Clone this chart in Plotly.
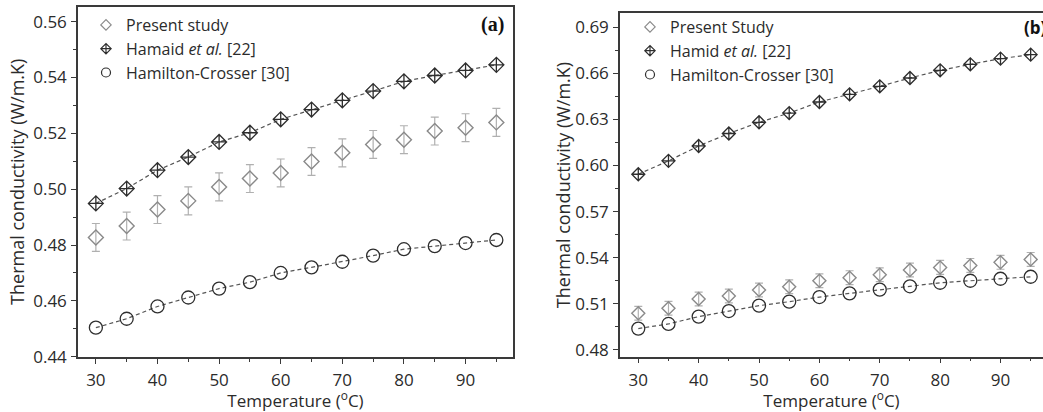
import plotly.graph_objects as go

# ---------------- data ----------------
temps = [30, 35, 40, 45, 50, 55, 60, 65, 70, 75, 80, 85, 90, 95]

# panel (a)
a_present = [0.4827, 0.4868, 0.4927, 0.4958, 0.5008, 0.5038, 0.5058, 0.5099,
             0.5130, 0.5160, 0.5177, 0.5208, 0.5220, 0.5239]
a_present_err = [0.005] * 14
a_hamaid = [0.4949, 0.5002, 0.5068, 0.5115, 0.5169, 0.5202, 0.5250, 0.5285,
            0.5318, 0.5351, 0.5386, 0.5407, 0.5425, 0.5445]
a_hc = [0.4504, 0.4536, 0.4580, 0.4612, 0.4644, 0.4667, 0.4700, 0.4720,
        0.4740, 0.4762, 0.4785, 0.4796, 0.4807, 0.4818]

# panel (b)
b_present = [0.5039, 0.5071, 0.5131, 0.5151, 0.5190, 0.5211, 0.5250, 0.5270,
             0.5289, 0.5320, 0.5337, 0.5350, 0.5370, 0.5389]
b_present_err = [0.0045] * 14
b_hamid = [0.5943, 0.6030, 0.6127, 0.6208, 0.6281, 0.6341, 0.6413, 0.6463,
           0.6515, 0.6569, 0.6619, 0.6658, 0.6695, 0.6721]
b_hc = [0.4939, 0.4969, 0.5017, 0.5053, 0.5088, 0.5114, 0.5144, 0.5168,
        0.5192, 0.5214, 0.5237, 0.5250, 0.5263, 0.5276]

names_a = ["Present study", "Hamaid <i>et al.</i> [22]", "Hamilton-Crosser [30]"]
names_b = ["Present Study", "Hamid <i>et al.</i> [22]", "Hamilton-Crosser [30]"]

# ---------------- style ----------------
W, H = 1043, 412
FONT = "Open Sans"
TXT = "#2b2b2b"
AX = "#3a3a3a"
GRAY = "#8a8a8a"
ERR = "#b0b0b0"
DARK = "#2e2e2e"
LINE = "#555555"
TS = 17   # tick label size
LS = 16   # legend size

fig = go.Figure()

def add_panel(xa, ya, leg, present, perr, ref, hc, names, dsize, csize):
    # dashed connecting lines
    for ys in (ref, hc):
        fig.add_trace(go.Scatter(
            x=temps, y=ys, mode="lines", showlegend=False, xaxis=xa, yaxis=ya, hoverinfo="skip",
            line=dict(color=LINE, width=1.2, dash="4px,3px"),
        ))
    fig.add_trace(go.Scatter(
        x=temps, y=present, mode="markers", name=names[0], xaxis=xa, yaxis=ya, showlegend=False,
        marker=dict(symbol="diamond-open", size=dsize, color=GRAY, line=dict(width=1.4, color=GRAY)),
        error_y=dict(type="data", array=perr, color=ERR, thickness=1.2, width=4),
    ))
    fig.add_trace(go.Scatter(
        x=temps, y=ref, mode="markers", name=names[1], xaxis=xa, yaxis=ya, showlegend=False,
        marker=dict(symbol="diamond-cross-open", size=dsize, color=DARK, line=dict(width=1.3, color=DARK)),
    ))
    fig.add_trace(go.Scatter(
        x=temps, y=hc, mode="markers", name=names[2], xaxis=xa, yaxis=ya, showlegend=False,
        marker=dict(symbol="circle-open", size=csize, color=DARK, line=dict(width=1.3, color=DARK)),
    ))
    # legend entries (smaller symbols, as in the original legend)
    for nm, sym, col, sz in ((names[0], "diamond-open", GRAY, 8),
                             (names[1], "diamond-cross-open", DARK, 8),
                             (names[2], "circle-open", DARK, 9)):
        fig.add_trace(go.Scatter(
            x=[None], y=[None], mode="markers", name=nm, xaxis=xa, yaxis=ya, legend=leg,
            marker=dict(symbol=sym, size=sz, color=col, line=dict(width=1.2, color=col)),
        ))

add_panel("x", "y", "legend", a_present, a_present_err, a_hamaid, a_hc, names_a, 11.5, 13)
add_panel("x2", "y2", "legend2", b_present, b_present_err, b_hamid, b_hc, names_b, 10, 13)

def xaxis(domain, rng, anchor):
    return dict(
        domain=domain, range=rng, anchor=anchor, tick0=0, dtick=10, automargin=False,
        ticks="outside", ticklen=5, tickwidth=1.2, tickcolor=AX, ticklabelstandoff=2,
        minor=dict(ticks="outside", ticklen=3, dtick=5, tickcolor=AX, tickwidth=1.2),
        showline=True, linecolor=AX, linewidth=1.5, mirror=True,
        showgrid=False, zeroline=False,
        tickfont=dict(family=FONT, size=TS, color=TXT),
        title=dict(text="Temperature (<sup>o</sup>C)", font=dict(family=FONT, size=TS, color=TXT), standoff=1),
    )

def yaxis(domain, rng, anchor, tick0, dtick, mirror, standoff):
    return dict(
        domain=domain, range=rng, anchor=anchor, tick0=tick0, dtick=dtick, tickformat=".2f",
        automargin=False,
        ticks="outside", ticklen=5, tickwidth=1.2, tickcolor=AX, ticklabelstandoff=1,
        minor=dict(ticks="outside", ticklen=3, dtick=dtick / 2, tickcolor=AX, tickwidth=1.2),
        showline=True, linecolor=AX, linewidth=1.5, mirror=mirror,
        showgrid=False, zeroline=False,
        tickfont=dict(family=FONT, size=TS, color=TXT),
        title=dict(text="Thermal conductivity (W/m.K)", font=dict(family=FONT, size=18, color=TXT),
                   standoff=standoff),
    )

fig.update_layout(
    width=W, height=H, margin=dict(l=0, r=0, t=0, b=0, autoexpand=False),
    paper_bgcolor="white", plot_bgcolor="white",
    showlegend=True,
    xaxis=xaxis([78 / W, 513 / W], [27.1, 97.7], "y"),
    yaxis=yaxis([(H - 357) / H, (H - 6.5) / H], [0.4399, 0.5654], "x", 0.44, 0.02, True, 4),
    xaxis2=xaxis([620 / W, 1.0], [26.97, 97.04], "y2"),
    yaxis2=yaxis([(H - 356.7) / H, (H - 13.3) / H], [0.4756, 0.6990], "x2", 0.48, 0.03, False, 0),
    legend=dict(x=86 / W, y=(H - 8) / H, xanchor="left", yanchor="top",
                bgcolor="rgba(0,0,0,0)", tracegroupgap=0,
                font=dict(family=FONT, size=LS, color=TXT)),
    legend2=dict(x=630 / W, y=(H - 10) / H, xanchor="left", yanchor="top",
                 bgcolor="rgba(0,0,0,0)", tracegroupgap=0,
                 font=dict(family=FONT, size=LS, color=TXT)),
    annotations=[
        dict(text="<b>(a)</b>", x=506 / W, y=(H - 25) / H, xref="paper", yref="paper",
             xanchor="right", yanchor="middle", showarrow=False,
             font=dict(family="Liberation Serif", size=20, color="#111")),
        dict(text="<b>(b)</b>", x=1022 / W, y=(H - 28) / H, xref="paper", yref="paper",
             xanchor="left", yanchor="middle", showarrow=False,
             font=dict(family=FONT, size=17, color="#111")),
    ],
)

fig.write_html(
    "out.html",
    config={"displayModeBar": False},
    post_script="document.body.style.margin='0px';document.body.style.overflow='hidden';",
)
